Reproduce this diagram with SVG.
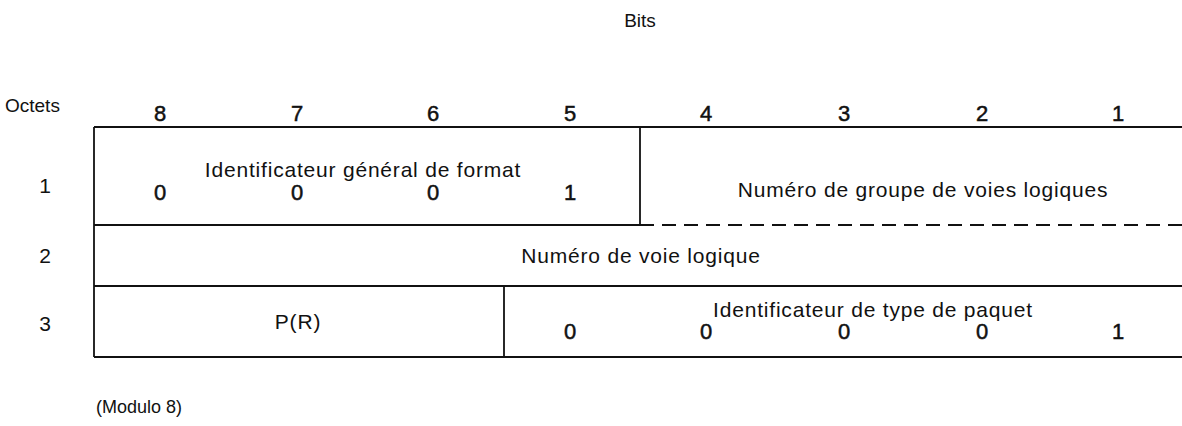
<svg xmlns="http://www.w3.org/2000/svg" width="1182" height="426" viewBox="0 0 1182 426">
<style>
text{font-family:"Liberation Sans",Arial,sans-serif;font-size:19px;fill:#111}
.c{text-anchor:middle}
.l{font-size:21px;letter-spacing:0.8px}
.n{font-size:22px;stroke:#111;stroke-width:0.5}
line{stroke:#111;stroke-width:1.8}
.d{stroke-dasharray:14 8}
</style>
<rect width="1182" height="426" fill="#fff"/>
<g id="header">
<text class="c" x="640" y="27">Bits</text>
<text x="5" y="112">Octets</text>
<text class="c n" x="160" y="121">8</text>
<text class="c n" x="297" y="121">7</text>
<text class="c n" x="433" y="121">6</text>
<text class="c n" x="570" y="121">5</text>
<text class="c n" x="706" y="121">4</text>
<text class="c n" x="844" y="121">3</text>
<text class="c n" x="982" y="121">2</text>
<text class="c n" x="1118" y="121">1</text>
</g>
<g id="connectors">
<line x1="94" y1="127" x2="1182" y2="127"/>
<line x1="94" y1="127" x2="94" y2="357"/>
<line x1="640" y1="127" x2="640" y2="225"/>
<line x1="94" y1="225" x2="640" y2="225"/>
<line class="d" x1="640" y1="225" x2="1182" y2="225"/>
<line x1="94" y1="286" x2="1182" y2="286"/>
<line x1="504" y1="286" x2="504" y2="357"/>
<line x1="94" y1="357" x2="1182" y2="357"/>
</g>
<g id="row1">
<text class="c" x="45" y="193" style="font-size:21px">1</text>
<text class="c l" x="363" y="177">Identificateur général de format</text>
<text class="c n" x="160" y="200">0</text>
<text class="c n" x="297" y="200">0</text>
<text class="c n" x="433" y="200">0</text>
<text class="c n" x="570" y="200">1</text>
<text class="c l" x="923" y="197">Numéro de groupe de voies logiques</text>
</g>
<g id="row2">
<text class="c" x="45" y="263" style="font-size:21px">2</text>
<text class="c l" x="641" y="263">Numéro de voie logique</text>
</g>
<g id="row3">
<text class="c" x="45" y="331" style="font-size:21px">3</text>
<text class="c l" x="298" y="329">P(R)</text>
<text class="c l" x="873" y="317">Identificateur de type de paquet</text>
<text class="c n" x="570" y="339">0</text>
<text class="c n" x="706" y="339">0</text>
<text class="c n" x="844" y="339">0</text>
<text class="c n" x="982" y="339">0</text>
<text class="c n" x="1118" y="339">1</text>
</g>
<g id="footer">
<text x="96" y="413" style="font-size:18px">(Modulo 8)</text>
</g>
</svg>
